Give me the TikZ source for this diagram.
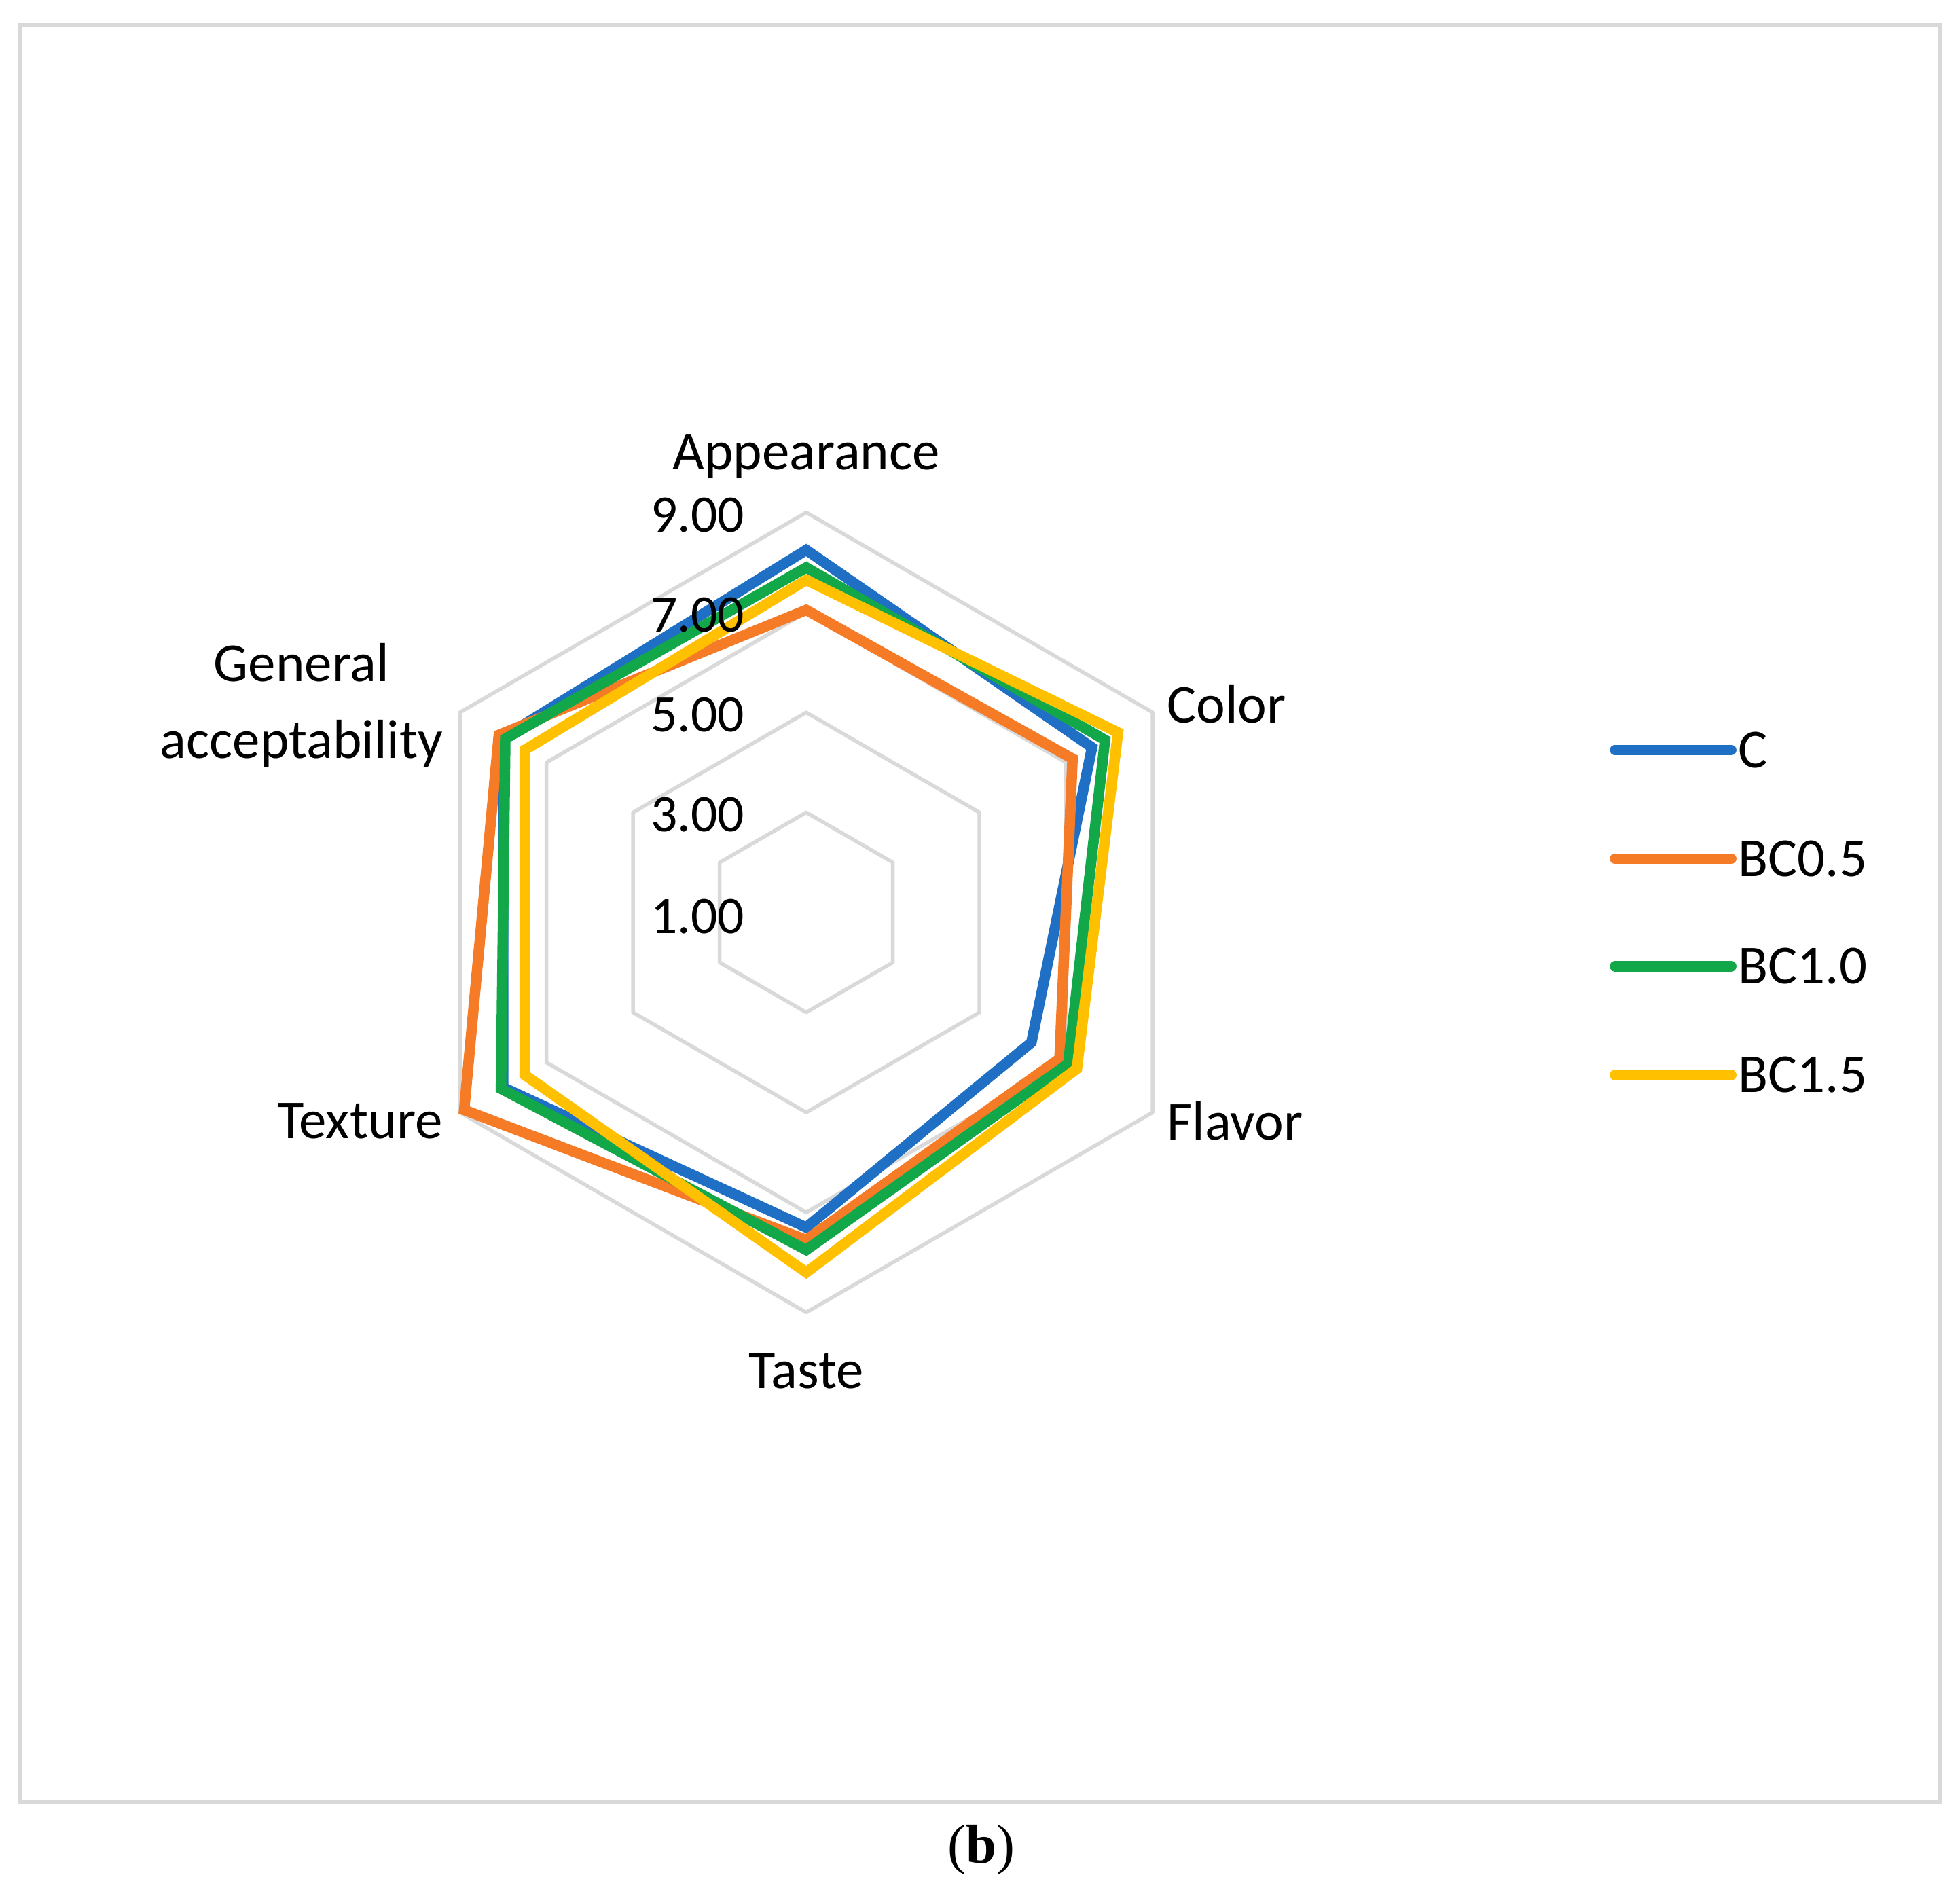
\documentclass[tikz,border=0pt]{standalone}
\usetikzlibrary{calc}
\usepackage{fontspec}
\setmainfont{Carlito}
\newfontfamily\capfont{Liberation Serif}
\definecolor{cC}{HTML}{1F6FC5}
\definecolor{cB5}{HTML}{F57B27}
\definecolor{cB10}{HTML}{12A84A}
\definecolor{cB15}{HTML}{FFC000}
\definecolor{gr}{HTML}{D9D9D9}
\begin{document}
\begin{tikzpicture}[x=0.01cm,y=-0.01cm,
  grid/.style={draw=gr,line width=0.85pt,line join=round},
  ser/.style={line width=2.4pt,line join=miter},
  lbl/.style={font=\fontsize{12.5}{14}\selectfont,inner sep=0pt},
  tick/.style={font=\fontsize{12}{13}\selectfont,inner sep=0pt}]
\useasboundingbox (0,0) rectangle (1568,1515);
\draw[draw=gr,line width=1pt] (16,20) rectangle (1552,1442);
\coordinate (O) at (645,730);
\foreach \v in {3,5,7,9}{
  \pgfmathsetmacro\r{(\v-1)*40}
  \draw[grid] ($(O)+(90:\r)$) \foreach \a in {30,-30,-90,-150,150}{ -- ($(O)+(\a:\r)$)} -- cycle;
}
\newcommand\radar[7]{%
  \draw[ser,#1] ($(O)+(-90:{(#2-1)*40})$) -- ($(O)+(-30:{(#3-1)*40})$) -- ($(O)+(30:{(#4-1)*40})$) -- ($(O)+(90:{(#5-1)*40})$) -- ($(O)+(150:{(#6-1)*40})$) -- ($(O)+(210:{(#7-1)*40})$) -- cycle;}
\radar{cC}{8.25}{7.6}{6.2}{7.3}{8.0}{8.0}
\radar{cB5}{7.05}{7.15}{6.85}{7.55}{8.9}{8.1}
\radar{cB10}{7.9}{7.9}{7.05}{7.75}{8.05}{7.95}
\radar{cB15}{7.65}{8.2}{7.25}{8.2}{7.5}{7.5}
\node[tick] (t9) at (558,412) {9.00};
\node[tick] (t7) at (558,492) {7.00};
\node[tick] (t5) at (558,572) {5.00};
\node[tick] (t3) at (558,652) {3.00};
\node[tick] (t1) at (558,733) {1.00};
\node[lbl] (ap) at (645,365) {Appearance};
\node[lbl,anchor=west] (co) at (933,563) {Color};
\node[lbl,anchor=west] (fl) at (933,897) {Flavor};
\node[lbl] (ta) at (645,1097) {Taste};
\node[lbl,anchor=east] (tx) at (355,897) {Texture};
\node[lbl,anchor=east,align=center,font=\fontsize{12.5}{17.5}\selectfont] (ga) at (355,564) {General\\acceptability};
\foreach \c/\t/\y [count=\i] in {cC/C/600,cB5/BC0.5/687,cB10/BC1.0/773,cB15/BC1.5/860}{
  \coordinate (l\i a) at (1292,\y);
  \coordinate (l\i b) at (1385,\y);
  \draw[ser,\c,line cap=round] (l\i a) -- (l\i b);
  \node[lbl,anchor=west] (lt\i) at (1390,\y) {\t};
}
\node[font=\capfont\fontsize{12.5}{14}\selectfont,inner sep=0pt] (cap) at (785,1480) {(\textbf{b})};
\end{tikzpicture}
\end{document}
